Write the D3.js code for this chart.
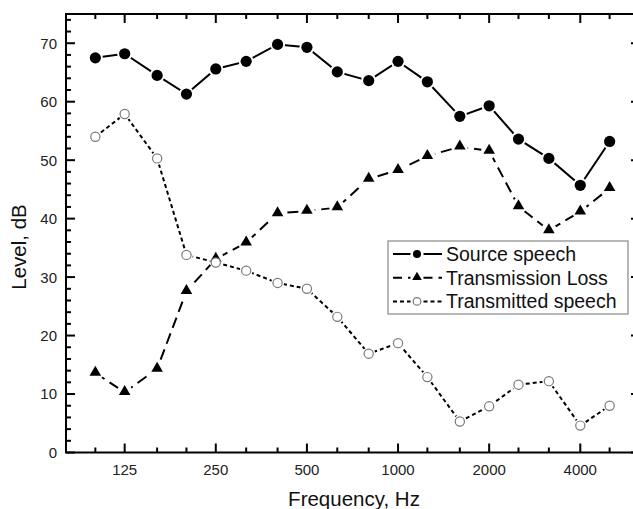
<!DOCTYPE html>
<html>
<head>
<meta charset="utf-8">
<script src="https://cdn.jsdelivr.net/npm/d3@7"></script>
<style>
  body { margin: 0; background: #fff; }
  svg { display: block; font-family: "Liberation Sans", Arial, sans-serif; }
</style>
</head>
<body>
<div id="container"></div>
<script>
// third-octave band centres, Hz
var freqs = [100, 125, 160, 200, 250, 315, 400, 500, 630, 800, 1000, 1250, 1600, 2000, 2500, 3150, 4000, 5000];
var labelFreqs = [125, 250, 500, 1000, 2000, 4000];
var yTicks = [0, 10, 20, 30, 40, 50, 60, 70];

// levels, dB
var sourceSpeech = [67.5, 68.2, 64.5, 61.3, 65.6, 66.9, 69.8, 69.3, 65.1, 63.6, 66.9, 63.4, 57.5, 59.3, 53.6, 50.3, 45.7, 53.2];
var transLoss = [13.6, 10.3, 14.3, 27.6, 33.1, 35.9, 40.9, 41.3, 41.9, 46.8, 48.3, 50.7, 52.3, 51.6, 42.1, 38.0, 41.2, 45.2];
var transSpeech = [54.0, 57.9, 50.3, 33.8, 32.5, 31.1, 29.0, 28.0, 23.2, 16.9, 18.7, 12.9, 5.3, 7.9, 11.6, 12.2, 4.6, 8.0];

var seriesNames = ["Source speech", "Transmission Loss", "Transmitted speech"];

//Width and height
var w = 633;
var h = 509;
var plotL = 66, plotR = 640, plotT = 14, plotB = 452.5;

var x = d3.scaleLog().domain([80, 6300]).range([plotL, plotR]);
var y = d3.scaleLinear().domain([0, 75]).range([plotB, plotT]);

var svg = d3.select("#container")
  .append("svg")
  .attr("width", w)
  .attr("height", h);

var defs = svg.append("defs");

var styles = [
  { data: sourceSpeech, dash: null, marker: "circle", r: 5.6, gap: 7.5 },
  { data: transLoss, dash: "11,6", marker: "triangle", r: 6, gap: 8 },
  { data: transSpeech, dash: "4,3", marker: "open", r: 4.6, gap: 6.5 }
];

var line = d3.line()
  .x(function(d) { return x(d.f); })
  .y(function(d) { return y(d.v); });

function pts(arr) {
  return arr.map(function(v, i) { return { f: freqs[i], v: v }; });
}

function drawMarker(g, s, cx, cy) {
  if (s.marker === "circle") {
    g.append("circle").attr("cx", cx).attr("cy", cy).attr("r", s.r).attr("fill", "#000");
  } else if (s.marker === "triangle") {
    g.append("path")
      .attr("d", d3.symbol().type(d3.symbolTriangle).size(s.size || 58)())
      .attr("transform", "translate(" + cx + "," + (cy - 0.5) + ")")
      .attr("fill", "#000");
  } else {
    g.append("circle").attr("cx", cx).attr("cy", cy).attr("r", s.r)
      .attr("fill", "#fff").attr("stroke", "#7a7a7a").attr("stroke-width", 1.2);
  }
}

// series: line with gaps around its own markers, then markers
styles.forEach(function(s, k) {
  var p = pts(s.data);
  var mask = defs.append("mask").attr("id", "m" + k)
    .attr("maskUnits", "userSpaceOnUse")
    .attr("x", 0).attr("y", 0).attr("width", w).attr("height", h);
  mask.append("rect").attr("width", w).attr("height", h).attr("fill", "#fff");
  mask.selectAll("circle").data(p).enter().append("circle")
    .attr("cx", function(d) { return x(d.f); })
    .attr("cy", function(d) { return y(d.v); })
    .attr("r", s.gap)
    .attr("fill", "#000");

  svg.append("path")
    .datum(p)
    .attr("d", line)
    .attr("fill", "none")
    .attr("stroke", "#000")
    .attr("stroke-width", 2)
    .attr("stroke-dasharray", s.dash)
    .attr("mask", "url(#m" + k + ")");

  var g = svg.append("g");
  p.forEach(function(d) { drawMarker(g, s, x(d.f), y(d.v)); });
});

// frame
svg.append("rect")
  .attr("x", plotL).attr("y", plotT)
  .attr("width", plotR - plotL).attr("height", plotB - plotT)
  .attr("fill", "none").attr("stroke", "#000").attr("stroke-width", 2);

// x ticks, inward on bottom and top
freqs.forEach(function(f) {
  var len = labelFreqs.indexOf(f) >= 0 ? 9 : 5;
  svg.append("line").attr("x1", x(f)).attr("x2", x(f))
    .attr("y1", plotB).attr("y2", plotB - len).attr("stroke", "#000").attr("stroke-width", 2);
  svg.append("line").attr("x1", x(f)).attr("x2", x(f))
    .attr("y1", plotT).attr("y2", plotT + len).attr("stroke", "#000").attr("stroke-width", 2);
});

svg.selectAll(".xl").data(labelFreqs).enter().append("text")
  .attr("x", function(d) { return x(d); })
  .attr("y", 475)
  .attr("text-anchor", "middle")
  .attr("font-size", 15)
  .attr("fill", "#222")
  .text(function(d) { return d; });

// y ticks: majors every 10, minors every 2
d3.range(0, 76, 2).forEach(function(v) {
  var len = v % 10 === 0 ? 9 : 5;
  svg.append("line").attr("x1", plotL).attr("x2", plotL + len)
    .attr("y1", y(v)).attr("y2", y(v)).attr("stroke", "#000").attr("stroke-width", 2);
  svg.append("line").attr("x1", plotR).attr("x2", plotR - len)
    .attr("y1", y(v)).attr("y2", y(v)).attr("stroke", "#000").attr("stroke-width", 2);
});

svg.selectAll(".yl").data(yTicks).enter().append("text")
  .attr("x", 57)
  .attr("y", function(d) { return y(d); })
  .attr("dy", "0.36em")
  .attr("text-anchor", "end")
  .attr("font-size", 15)
  .attr("fill", "#222")
  .text(function(d) { return d; });

// axis titles
svg.append("text")
  .attr("x", 354).attr("y", 506)
  .attr("text-anchor", "middle")
  .attr("font-size", 20.5)
  .attr("fill", "#111")
  .text("Frequency, Hz");

svg.append("text")
  .attr("transform", "translate(26,247) rotate(-90)")
  .attr("text-anchor", "middle")
  .attr("font-size", 20.5)
  .attr("fill", "#111")
  .text("Level, dB");

// legend
var lg = svg.append("g");
lg.append("rect")
  .attr("x", 388).attr("y", 241).attr("width", 240).attr("height", 73)
  .attr("fill", "#fff").attr("stroke", "#888").attr("stroke-width", 1.2);

seriesNames.forEach(function(name, k) {
  var s = styles[k];
  var cy = 254 + k * 23.7;
  var mx = 417;
  var gap = 6.5;
  [[393, mx - gap], [mx + gap, 442]].forEach(function(seg) {
    lg.append("line")
      .attr("x1", seg[0]).attr("x2", seg[1])
      .attr("y1", cy).attr("y2", cy)
      .attr("stroke", "#000").attr("stroke-width", 2)
      .attr("stroke-dasharray", k === 1 ? "9,6" : s.dash);
  });
  drawMarker(lg, { marker: s.marker, r: s.marker === "circle" ? 4 : 3.8, size: 40 }, mx, cy);
  lg.append("text")
    .attr("x", 446).attr("y", cy)
    .attr("dy", "0.36em")
    .attr("font-size", 19.5)
    .attr("fill", "#111")
    .text(name);
});
</script>
</body>
</html>
